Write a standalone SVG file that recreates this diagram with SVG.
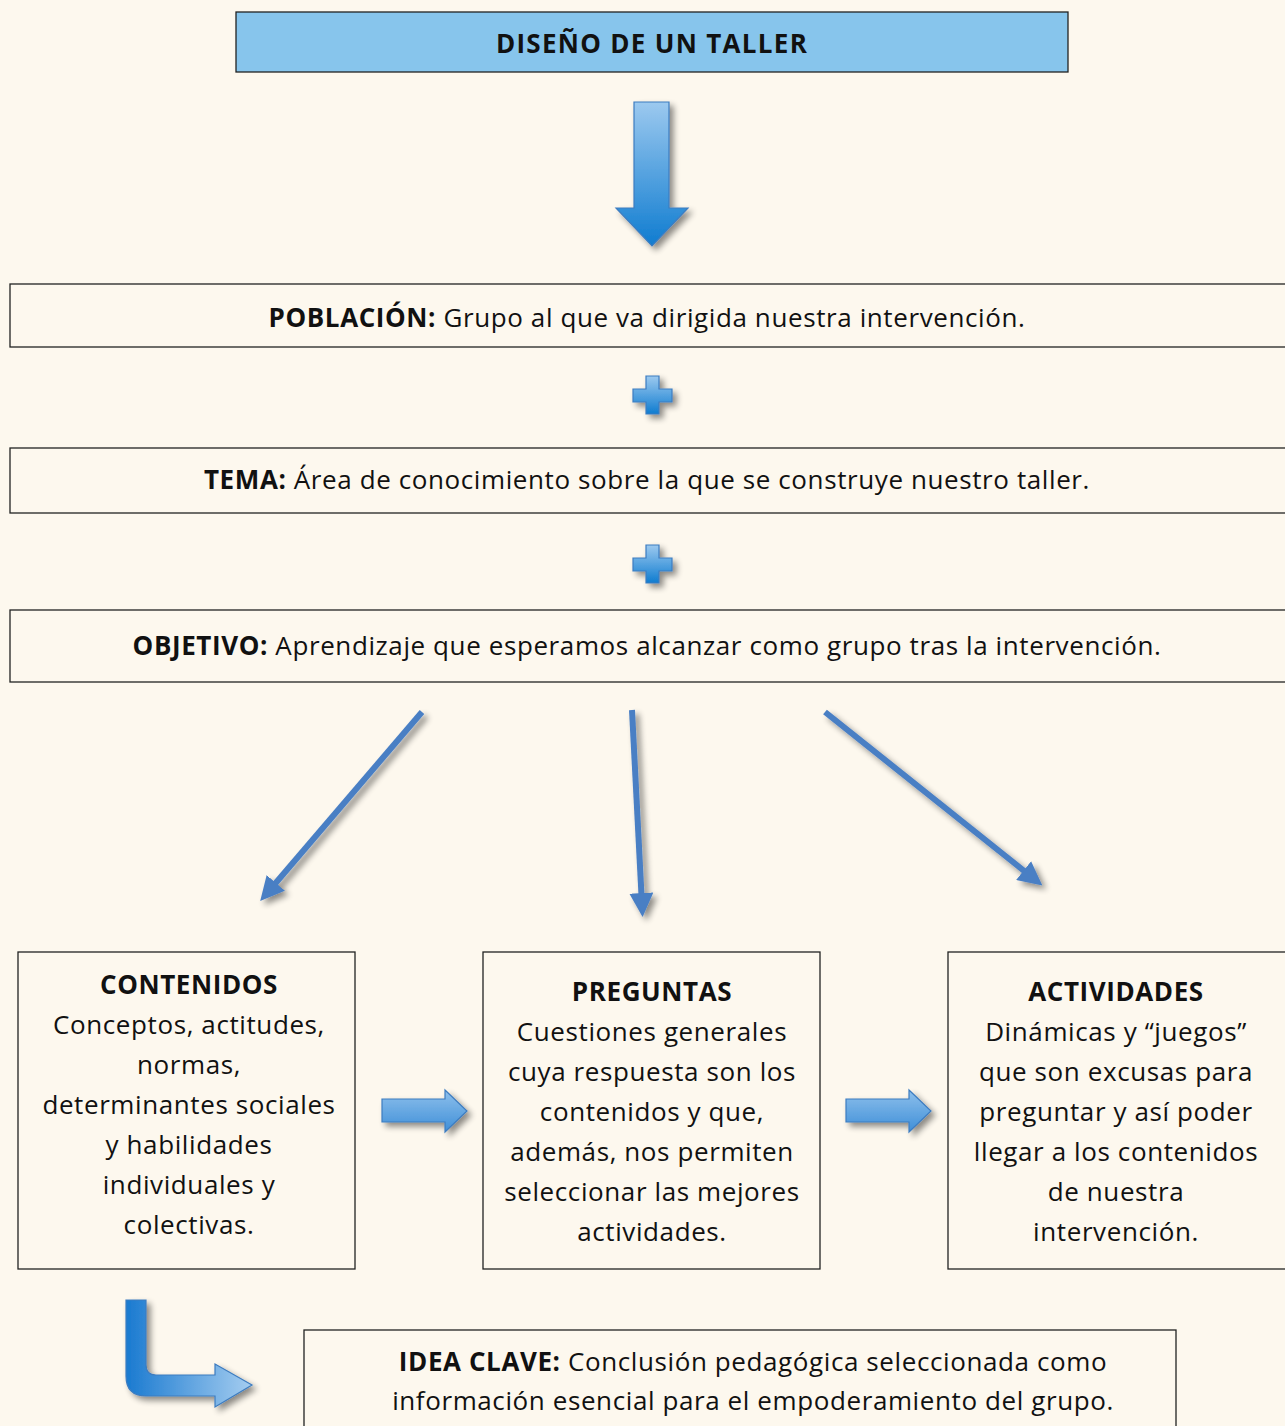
<svg xmlns="http://www.w3.org/2000/svg" width="1285" height="1426" viewBox="0 0 1285 1426">
<style>
.box{fill:none;stroke:#222;stroke-width:1.3}
.t{font-family:"Open Sans","Liberation Sans",sans-serif;font-size:26px;fill:#111;text-anchor:middle;letter-spacing:0.6px}
.b{font-weight:bold}
.thin{fill:none;stroke:#4a7fc4;stroke-width:6}
</style>
<defs>
<linearGradient id="gv" x1="0" y1="0" x2="0" y2="1"><stop offset="0" stop-color="#9cc9ef"/><stop offset="1" stop-color="#0f7cd0"/></linearGradient>
<linearGradient id="gh" x1="0" y1="0" x2="0" y2="1"><stop offset="0" stop-color="#8ec0ec"/><stop offset="1" stop-color="#3f8fd8"/></linearGradient>
<linearGradient id="gb" x1="0" y1="0" x2="1" y2="0"><stop offset="0" stop-color="#1a7ad0"/><stop offset="1" stop-color="#a5cdf0"/></linearGradient>
<filter id="sh" x="-30%" y="-30%" width="160%" height="160%"><feGaussianBlur in="SourceAlpha" stdDeviation="3"/><feOffset dx="4" dy="4"/><feComponentTransfer><feFuncA type="linear" slope="0.45"/></feComponentTransfer><feMerge><feMergeNode/><feMergeNode in="SourceGraphic"/></feMerge></filter>
<marker id="ah" viewBox="0 0 10 10" refX="5" refY="5" markerWidth="4" markerHeight="4" orient="auto"><path d="M0,0L10,5L0,10z" fill="#4a7fc4"/></marker>
</defs>
<rect width="1285" height="1426" fill="#fdf8ee"/>

<g id="title">
<rect x="236" y="12" width="832" height="60" fill="#87c5ec" stroke="#222" stroke-width="1.3"/>
<text class="t b" x="652" y="53" font-size="29" style="letter-spacing:1.3px">DISEÑO DE UN TALLER</text>
</g>

<g id="poblacion">
<rect class="box" x="10" y="284" width="1285" height="63"/>
<text class="t" x="647" y="327"><tspan class="b">POBLACIÓN:</tspan> Grupo al que va dirigida nuestra intervención.</text>
</g>
<g id="tema">
<rect class="box" x="10" y="448" width="1285" height="65"/>
<text class="t" x="647" y="489"><tspan class="b">TEMA:</tspan> Área de conocimiento sobre la que se construye nuestro taller.</text>
</g>
<g id="objetivo">
<rect class="box" x="10" y="610" width="1285" height="72"/>
<text class="t" x="647" y="655"><tspan class="b">OBJETIVO:</tspan> Aprendizaje que esperamos alcanzar como grupo tras la intervención.</text>
</g>

<g id="contenidos">
<rect class="box" x="18" y="952" width="337" height="317"/>
<text class="t" x="189" y="994"><tspan class="b">CONTENIDOS</tspan><tspan x="189" dy="40">Conceptos, actitudes,</tspan><tspan x="189" dy="40">normas,</tspan><tspan x="189" dy="40">determinantes sociales</tspan><tspan x="189" dy="40">y habilidades</tspan><tspan x="189" dy="40">individuales y</tspan><tspan x="189" dy="40">colectivas.</tspan></text>
</g>
<g id="preguntas">
<rect class="box" x="483" y="952" width="337" height="317"/>
<text class="t" x="652" y="1001"><tspan class="b">PREGUNTAS</tspan><tspan x="652" dy="40">Cuestiones generales</tspan><tspan x="652" dy="40">cuya respuesta son los</tspan><tspan x="652" dy="40">contenidos y que,</tspan><tspan x="652" dy="40">además, nos permiten</tspan><tspan x="652" dy="40">seleccionar las mejores</tspan><tspan x="652" dy="40">actividades.</tspan></text>
</g>
<g id="actividades">
<rect class="box" x="948" y="952" width="345" height="317"/>
<text class="t" x="1116" y="1001"><tspan class="b">ACTIVIDADES</tspan><tspan x="1116" dy="40">Dinámicas y “juegos”</tspan><tspan x="1116" dy="40">que son excusas para</tspan><tspan x="1116" dy="40">preguntar y así poder</tspan><tspan x="1116" dy="40">llegar a los contenidos</tspan><tspan x="1116" dy="40">de nuestra</tspan><tspan x="1116" dy="40">intervención.</tspan></text>
</g>
<g id="ideaclave">
<rect class="box" x="304" y="1330" width="872" height="110"/>
<text class="t" x="753" y="1371"><tspan class="b">IDEA CLAVE:</tspan> Conclusión pedagógica seleccionada como<tspan x="753" dy="39">información esencial para el empoderamiento del grupo.</tspan></text>
</g>

<g id="connectors">
<path filter="url(#sh)" d="M634,102H669V208H688L652,246L616,208H634Z" fill="url(#gv)" stroke="#3d7cc0" stroke-width="1.2"/>
<path filter="url(#sh)" d="M646,376H659V389H672V402H659V414H646V402H633V389H646Z" fill="url(#gv)" stroke="#3d7cc0" stroke-width="1.2"/>
<path filter="url(#sh)" d="M646,545H659V558H672V571H659V583H646V571H633V558H646Z" fill="url(#gv)" stroke="#3d7cc0" stroke-width="1.2"/>
<g filter="url(#sh)">
<line class="thin" x1="422" y1="712" x2="268" y2="892" marker-end="url(#ah)"/>
<line class="thin" x1="632" y1="710" x2="642" y2="905" marker-end="url(#ah)"/>
<line class="thin" x1="825" y1="712" x2="1033" y2="878" marker-end="url(#ah)"/>
</g>
<path filter="url(#sh)" d="M382,1099H445V1090L467,1111L445,1132V1122H382Z" fill="url(#gh)" stroke="#3d7cc0" stroke-width="1.2"/>
<path filter="url(#sh)" d="M846,1099H909V1090L931,1111L909,1132V1122H846Z" fill="url(#gh)" stroke="#3d7cc0" stroke-width="1.2"/>
<path filter="url(#sh)" d="M126,1300H146V1365Q146,1375 156,1375H215V1364L252,1385L215,1407V1396H146Q126,1396 126,1376Z" fill="url(#gb)" stroke="#3d7cc0" stroke-width="1.2"/>
</g>
</svg>
